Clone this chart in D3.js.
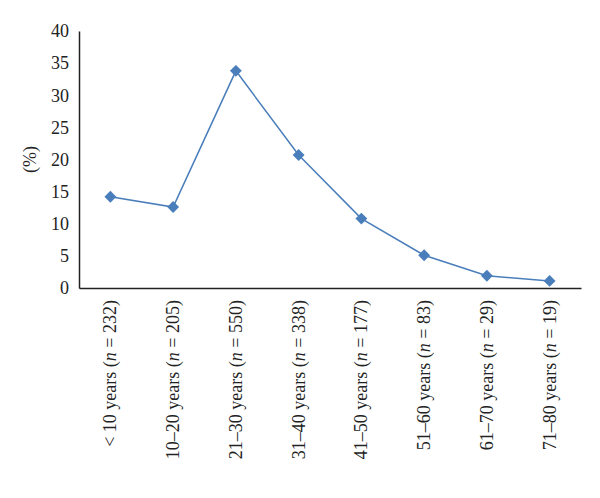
<!DOCTYPE html>
<html lang="en">
    <head>
        <meta charset="utf-8">
        <title>Age distribution</title>
        <script type="text/javascript" src="https://cdn.jsdelivr.net/npm/d3@7"></script>
        <style type="text/css">
            body { margin: 0; background: #fff; }
            text { font-family: "Liberation Serif", "Times New Roman", serif; fill: #222; }
        </style>
    </head>

    <body>
        <script type="text/javascript">
            // Data
            var groups = ["< 10 years", "10\u201320 years", "21\u201330 years", "31\u201340 years",
                          "41\u201350 years", "51\u201360 years", "61\u201370 years", "71\u201380 years"];
            var counts = [232, 205, 550, 338, 177, 83, 29, 19];
            var percents = [14.2, 12.6, 33.8, 20.7, 10.8, 5.1, 1.9, 1.1];
            var yTicks = [0, 5, 10, 15, 20, 25, 30, 35, 40];

            var w = 600;
            var h = 498;
            var plotLeft = 79, plotRight = 581, plotTop = 31, plotBottom = 288;

            var svg = d3.select("body")
                        .append("svg")
                        .attr("width", w)
                        .attr("height", h);

            var xScale = d3.scaleBand()
                            .domain(groups)
                            .range([plotLeft, plotRight]);
            var yScale = d3.scaleLinear()
                            .domain([0, 40])
                            .range([plotBottom, plotTop]);

            // Axes
            var yAxis = d3.axisLeft(yScale)
                            .tickValues(yTicks)
                            .tickSize(0)
                            .tickPadding(10);
            var gy = svg.append("g")
                .attr("transform", "translate(" + plotLeft + ",0)")
                .call(yAxis);
            gy.select(".domain").attr("stroke", "#222").attr("stroke-width", 1.5);
            gy.selectAll("text").attr("font-size", "18px").attr("fill", "#222")
                .attr("font-family", "Liberation Serif, serif");

            var xAxis = d3.axisBottom(xScale).tickSize(0).tickFormat("");
            var gx = svg.append("g")
                .attr("transform", "translate(0," + plotBottom + ")")
                .call(xAxis);
            gx.select(".domain").attr("stroke", "#222").attr("stroke-width", 1.5);

            // Rotated category labels
            var labels = svg.append("g").selectAll("text")
                .data(groups)
                .enter()
                .append("text")
                .attr("transform", function(d) {
                    return "translate(" + (xScale(d) + xScale.bandwidth() / 2 + 6) + "," + (plotBottom + 12) + ") rotate(-90)";
                })
                .attr("text-anchor", "end")
                .attr("font-size", "18px");
            labels.append("tspan").text(function(d) { return d + " ("; });
            labels.append("tspan").attr("font-style", "italic").text("n");
            labels.append("tspan").text(function(d, i) { return " = " + counts[i] + ")"; });

            // Y title
            svg.append("text")
                .attr("transform", "translate(36," + ((plotTop + plotBottom) / 2) + ") rotate(-90)")
                .attr("text-anchor", "middle")
                .attr("font-size", "18px")
                .text("(%)");

            // Line and markers
            var line = d3.line()
                .x(function(d, i) { return xScale(groups[i]) + xScale.bandwidth() / 2; })
                .y(function(d) { return yScale(d); });

            svg.append("path")
                .datum(percents)
                .attr("d", line)
                .attr("fill", "none")
                .attr("stroke", "#4a7ebb")
                .attr("stroke-width", 1.5);

            svg.selectAll(".marker")
                .data(percents)
                .enter()
                .append("path")
                .attr("class", "marker")
                .attr("d", d3.symbol().type(d3.symbolDiamond2).size(90))
                .attr("transform", function(d, i) {
                    return "translate(" + (xScale(groups[i]) + xScale.bandwidth() / 2) + "," + yScale(d) + ")";
                })
                .attr("fill", "#4a7ebb");
        </script>
    </body>
</html>
